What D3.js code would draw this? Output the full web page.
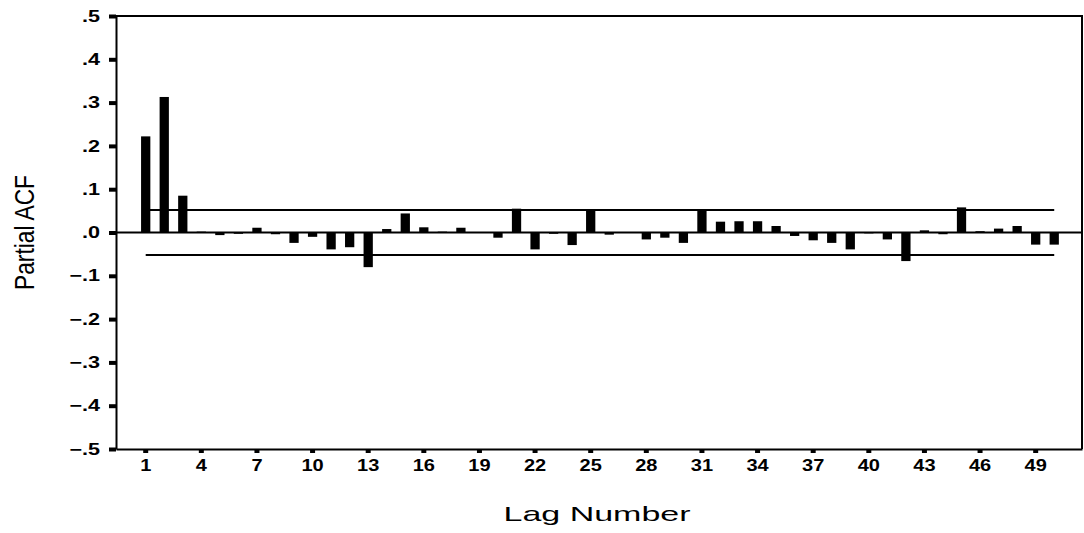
<!DOCTYPE html>
<html>
<head>
<meta charset="utf-8">
<script src="https://cdn.jsdelivr.net/npm/d3@7"></script>
<style>
  body { margin: 0; background: #fff; }
  svg { display: block; }
  .axis path, .axis line { stroke: #000; }
  .axis text { font-family: "Liberation Sans", Arial, sans-serif; font-weight: bold; fill: #000; }
</style>
</head>
<body>
<div id="chart"></div>
<script>
// lag categories and partial autocorrelations
var lags = [1, 2, 3, 4, 5, 6, 7, 8, 9, 10, 11, 12, 13, 14, 15, 16, 17, 18, 19, 20,
  21, 22, 23, 24, 25, 26, 27, 28, 29, 30, 31, 32, 33, 34, 35, 36, 37, 38, 39, 40,
  41, 42, 43, 44, 45, 46, 47, 48, 49, 50];
var pacf = [0.222, 0.313, 0.085, 0.002, -0.006, -0.003, 0.011, -0.004, -0.024, -0.010,
  -0.039, -0.034, -0.080, 0.008, 0.044, 0.012, 0.002, 0.011, 0.001, -0.012,
  0.055, -0.039, -0.003, -0.029, 0.052, -0.005, 0.001, -0.016, -0.012, -0.024,
  0.051, 0.025, 0.026, 0.026, 0.015, -0.008, -0.018, -0.024, -0.039, -0.002,
  -0.016, -0.066, 0.005, -0.004, 0.058, 0.003, 0.009, 0.015, -0.028, -0.028];
var confLimits = [0.052, -0.052];
var xTickLags = [1, 4, 7, 10, 13, 16, 19, 22, 25, 28, 31, 34, 37, 40, 43, 46, 49];
var yTicks = [-0.5, -0.4, -0.3, -0.2, -0.1, 0, 0.1, 0.2, 0.3, 0.4, 0.5];

var width = 1084;
var height = 533;
var margin = { top: 16, right: 2, bottom: 84, left: 116 };

var svg = d3.select("#chart")
  .append("svg")
  .attr("width", width)
  .attr("height", height);

/* Scales */
var xScale = d3.scaleBand()
  .domain(lags)
  .range([margin.left, width - margin.right])
  .paddingInner(0.5)
  .paddingOuter(1.3)
  .align(0.52);

var yScale = d3.scaleLinear()
  .domain([-0.5, 0.5])
  .range([height - margin.bottom, margin.top]);

var xc = d => xScale(d) + xScale.bandwidth() / 2;

/* Bars */
svg.append("g")
  .selectAll("rect")
  .data(lags)
  .enter()
  .append("rect")
  .attr("x", d => xScale(d))
  .attr("width", xScale.bandwidth())
  .attr("y", (d, i) => yScale(Math.max(0, pacf[i])))
  .attr("height", (d, i) => Math.abs(yScale(pacf[i]) - yScale(0)))
  .attr("fill", "#000");

/* Confidence limits */
svg.append("g")
  .selectAll("line")
  .data(confLimits)
  .enter()
  .append("line")
  .attr("x1", xc(lags[0]))
  .attr("x2", xc(lags[lags.length - 1]))
  .attr("y1", d => yScale(d))
  .attr("y2", d => yScale(d))
  .attr("stroke", "#000")
  .attr("stroke-width", 2);

/* Zero line */
svg.append("line")
  .attr("x1", margin.left)
  .attr("x2", width - margin.right)
  .attr("y1", yScale(0))
  .attr("y2", yScale(0))
  .attr("stroke", "#000")
  .attr("stroke-width", 2);

/* Frame (top and right) */
svg.append("path")
  .attr("d", `M${margin.left},${yScale(0.5)}H${width - margin.right}V${yScale(-0.5)}`)
  .attr("fill", "none")
  .attr("stroke", "#000")
  .attr("stroke-width", 2);

/* Axes */
var xAxis = d3.axisBottom(xScale)
  .tickValues(xTickLags)
  .tickSize(4)
  .tickSizeOuter(0)
  .tickPadding(7);

var gx = svg.append("g")
  .attr("class", "x axis")
  .attr("transform", `translate(0, ${yScale(-0.5)})`)
  .call(xAxis);
gx.select(".domain").attr("stroke-width", 2);
gx.selectAll(".tick line").attr("stroke-width", 5);
gx.selectAll(".tick text")
  .style("font-size", "16px")
  .attr("transform", "scale(1.25,1)");

var yAxis = d3.axisLeft(yScale)
  .tickValues(yTicks)
  .tickSize(7)
  .tickSizeOuter(0)
  .tickFormat(d => d3.format(".1f")(d).replace("0.", "."));

var gy = svg.append("g")
  .attr("class", "y axis")
  .attr("transform", `translate(${margin.left}, 0)`)
  .call(yAxis);
gy.select(".domain").attr("stroke-width", 2);
gy.selectAll(".tick line").attr("stroke-width", 4);
gy.selectAll(".tick text")
  .style("font-size", "16px")
  .attr("x", -16 / 1.35)
  .attr("transform", "scale(1.35,1)");

/* Axis titles */
svg.append("text")
  .attr("x", 597)
  .attr("y", 521)
  .attr("text-anchor", "middle")
  .attr("textLength", 187)
  .attr("lengthAdjust", "spacingAndGlyphs")
  .style("font-family", "Liberation Sans, Arial, sans-serif")
  .style("font-size", "21px")
  .text("Lag Number");

svg.append("text")
  .attr("transform", `translate(34, ${yScale(0)}) rotate(-90)`)
  .attr("text-anchor", "middle")
  .attr("textLength", 115)
  .attr("lengthAdjust", "spacingAndGlyphs")
  .style("font-family", "Liberation Sans, Arial, sans-serif")
  .style("font-size", "28px")
  .text("Partial ACF");
</script>
</body>
</html>
